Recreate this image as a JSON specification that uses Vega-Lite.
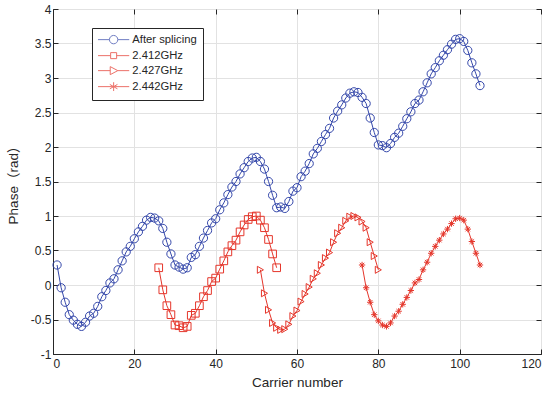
{
  "$schema": "https://vega.github.io/schema/vega-lite/v6.json",
  "width": 488,
  "height": 345,
  "autosize": "none",
  "padding": {"left": 53, "top": 9, "right": 8, "bottom": 43},
  "background": "white",
  "config": {
    "view": {"stroke": "#262626", "strokeWidth": 1},
    "axis": {
      "labelFont": "Liberation Sans",
      "titleFont": "Liberation Sans, Noto Sans CJK SC",
      "labelFontSize": 12,
      "titleFontSize": 13.5,
      "titleFontWeight": "normal",
      "labelColor": "#262626",
      "titleColor": "#262626",
      "domainColor": "#262626",
      "tickColor": "#262626",
      "gridColor": "#e2e2e2",
      "tickSize": -5
    }
  },
  "data": {"values": [
    {"series": "After splicing", "x": 1, "y": 0.29}, {"series": "After splicing", "x": 2, "y": -0.04}, {"series": "After splicing", "x": 3, "y": -0.25}, {"series": "After splicing", "x": 4, "y": -0.43}, {"series": "After splicing", "x": 5, "y": -0.51},
    {"series": "After splicing", "x": 6, "y": -0.57}, {"series": "After splicing", "x": 7, "y": -0.6}, {"series": "After splicing", "x": 8, "y": -0.54}, {"series": "After splicing", "x": 9, "y": -0.45}, {"series": "After splicing", "x": 10, "y": -0.41},
    {"series": "After splicing", "x": 11, "y": -0.31}, {"series": "After splicing", "x": 12, "y": -0.17}, {"series": "After splicing", "x": 13, "y": -0.08}, {"series": "After splicing", "x": 14, "y": 0.03}, {"series": "After splicing", "x": 15, "y": 0.09},
    {"series": "After splicing", "x": 16, "y": 0.22}, {"series": "After splicing", "x": 17, "y": 0.35}, {"series": "After splicing", "x": 18, "y": 0.48}, {"series": "After splicing", "x": 19, "y": 0.56}, {"series": "After splicing", "x": 20, "y": 0.67},
    {"series": "After splicing", "x": 21, "y": 0.77}, {"series": "After splicing", "x": 22, "y": 0.85}, {"series": "After splicing", "x": 23, "y": 0.94}, {"series": "After splicing", "x": 24, "y": 0.98}, {"series": "After splicing", "x": 25, "y": 0.97},
    {"series": "After splicing", "x": 26, "y": 0.93}, {"series": "After splicing", "x": 27, "y": 0.82}, {"series": "After splicing", "x": 28, "y": 0.62}, {"series": "After splicing", "x": 29, "y": 0.45}, {"series": "After splicing", "x": 30, "y": 0.29},
    {"series": "After splicing", "x": 31, "y": 0.26}, {"series": "After splicing", "x": 32, "y": 0.23}, {"series": "After splicing", "x": 33, "y": 0.25}, {"series": "After splicing", "x": 34, "y": 0.4}, {"series": "After splicing", "x": 35, "y": 0.44},
    {"series": "After splicing", "x": 36, "y": 0.56}, {"series": "After splicing", "x": 37, "y": 0.68}, {"series": "After splicing", "x": 38, "y": 0.79}, {"series": "After splicing", "x": 39, "y": 0.9}, {"series": "After splicing", "x": 40, "y": 0.96},
    {"series": "After splicing", "x": 41, "y": 1.09}, {"series": "After splicing", "x": 42, "y": 1.19}, {"series": "After splicing", "x": 43, "y": 1.31}, {"series": "After splicing", "x": 44, "y": 1.42}, {"series": "After splicing", "x": 45, "y": 1.5},
    {"series": "After splicing", "x": 46, "y": 1.61}, {"series": "After splicing", "x": 47, "y": 1.7}, {"series": "After splicing", "x": 48, "y": 1.79}, {"series": "After splicing", "x": 49, "y": 1.84}, {"series": "After splicing", "x": 50, "y": 1.85},
    {"series": "After splicing", "x": 51, "y": 1.79}, {"series": "After splicing", "x": 52, "y": 1.68}, {"series": "After splicing", "x": 53, "y": 1.5}, {"series": "After splicing", "x": 54, "y": 1.3}, {"series": "After splicing", "x": 55, "y": 1.12},
    {"series": "After splicing", "x": 56, "y": 1.13}, {"series": "After splicing", "x": 57, "y": 1.11}, {"series": "After splicing", "x": 58, "y": 1.21}, {"series": "After splicing", "x": 59, "y": 1.36}, {"series": "After splicing", "x": 60, "y": 1.41},
    {"series": "After splicing", "x": 61, "y": 1.57}, {"series": "After splicing", "x": 62, "y": 1.65}, {"series": "After splicing", "x": 63, "y": 1.76}, {"series": "After splicing", "x": 64, "y": 1.9}, {"series": "After splicing", "x": 65, "y": 1.98},
    {"series": "After splicing", "x": 66, "y": 2.08}, {"series": "After splicing", "x": 67, "y": 2.18}, {"series": "After splicing", "x": 68, "y": 2.27}, {"series": "After splicing", "x": 69, "y": 2.42}, {"series": "After splicing", "x": 70, "y": 2.52},
    {"series": "After splicing", "x": 71, "y": 2.61}, {"series": "After splicing", "x": 72, "y": 2.71}, {"series": "After splicing", "x": 73, "y": 2.78}, {"series": "After splicing", "x": 74, "y": 2.8}, {"series": "After splicing", "x": 75, "y": 2.79},
    {"series": "After splicing", "x": 76, "y": 2.72}, {"series": "After splicing", "x": 77, "y": 2.63}, {"series": "After splicing", "x": 78, "y": 2.42}, {"series": "After splicing", "x": 79, "y": 2.21}, {"series": "After splicing", "x": 80, "y": 2.03},
    {"series": "After splicing", "x": 81, "y": 2.02}, {"series": "After splicing", "x": 82, "y": 1.99}, {"series": "After splicing", "x": 83, "y": 2.05}, {"series": "After splicing", "x": 84, "y": 2.14}, {"series": "After splicing", "x": 85, "y": 2.2},
    {"series": "After splicing", "x": 86, "y": 2.3}, {"series": "After splicing", "x": 87, "y": 2.41}, {"series": "After splicing", "x": 88, "y": 2.51}, {"series": "After splicing", "x": 89, "y": 2.63}, {"series": "After splicing", "x": 90, "y": 2.68},
    {"series": "After splicing", "x": 91, "y": 2.8}, {"series": "After splicing", "x": 92, "y": 2.93}, {"series": "After splicing", "x": 93, "y": 3.06}, {"series": "After splicing", "x": 94, "y": 3.15}, {"series": "After splicing", "x": 95, "y": 3.25},
    {"series": "After splicing", "x": 96, "y": 3.33}, {"series": "After splicing", "x": 97, "y": 3.41}, {"series": "After splicing", "x": 98, "y": 3.49}, {"series": "After splicing", "x": 99, "y": 3.56}, {"series": "After splicing", "x": 100, "y": 3.57},
    {"series": "After splicing", "x": 101, "y": 3.53}, {"series": "After splicing", "x": 102, "y": 3.4}, {"series": "After splicing", "x": 103, "y": 3.22}, {"series": "After splicing", "x": 104, "y": 3.06}, {"series": "After splicing", "x": 105, "y": 2.89},
    {"series": "2.412GHz", "x": 26, "y": 0.25}, {"series": "2.412GHz", "x": 27, "y": -0.07}, {"series": "2.412GHz", "x": 28, "y": -0.3}, {"series": "2.412GHz", "x": 29, "y": -0.43}, {"series": "2.412GHz", "x": 30, "y": -0.58},
    {"series": "2.412GHz", "x": 31, "y": -0.59}, {"series": "2.412GHz", "x": 32, "y": -0.62}, {"series": "2.412GHz", "x": 33, "y": -0.6}, {"series": "2.412GHz", "x": 34, "y": -0.44}, {"series": "2.412GHz", "x": 35, "y": -0.41},
    {"series": "2.412GHz", "x": 36, "y": -0.3}, {"series": "2.412GHz", "x": 37, "y": -0.17}, {"series": "2.412GHz", "x": 38, "y": -0.08}, {"series": "2.412GHz", "x": 39, "y": 0.05}, {"series": "2.412GHz", "x": 40, "y": 0.1},
    {"series": "2.412GHz", "x": 41, "y": 0.23}, {"series": "2.412GHz", "x": 42, "y": 0.35}, {"series": "2.412GHz", "x": 43, "y": 0.48}, {"series": "2.412GHz", "x": 44, "y": 0.57}, {"series": "2.412GHz", "x": 45, "y": 0.65},
    {"series": "2.412GHz", "x": 46, "y": 0.77}, {"series": "2.412GHz", "x": 47, "y": 0.87}, {"series": "2.412GHz", "x": 48, "y": 0.95}, {"series": "2.412GHz", "x": 49, "y": 0.99}, {"series": "2.412GHz", "x": 50, "y": 1.0},
    {"series": "2.412GHz", "x": 51, "y": 0.94}, {"series": "2.412GHz", "x": 52, "y": 0.83}, {"series": "2.412GHz", "x": 53, "y": 0.66}, {"series": "2.412GHz", "x": 54, "y": 0.45}, {"series": "2.412GHz", "x": 55, "y": 0.25},
    {"series": "2.427GHz", "x": 51, "y": 0.22}, {"series": "2.427GHz", "x": 52, "y": -0.12}, {"series": "2.427GHz", "x": 53, "y": -0.36}, {"series": "2.427GHz", "x": 54, "y": -0.55}, {"series": "2.427GHz", "x": 55, "y": -0.62},
    {"series": "2.427GHz", "x": 56, "y": -0.65}, {"series": "2.427GHz", "x": 57, "y": -0.64}, {"series": "2.427GHz", "x": 58, "y": -0.57}, {"series": "2.427GHz", "x": 59, "y": -0.45}, {"series": "2.427GHz", "x": 60, "y": -0.37},
    {"series": "2.427GHz", "x": 61, "y": -0.24}, {"series": "2.427GHz", "x": 62, "y": -0.13}, {"series": "2.427GHz", "x": 63, "y": -0.03}, {"series": "2.427GHz", "x": 64, "y": 0.09}, {"series": "2.427GHz", "x": 65, "y": 0.17},
    {"series": "2.427GHz", "x": 66, "y": 0.29}, {"series": "2.427GHz", "x": 67, "y": 0.39}, {"series": "2.427GHz", "x": 68, "y": 0.47}, {"series": "2.427GHz", "x": 69, "y": 0.62}, {"series": "2.427GHz", "x": 70, "y": 0.75},
    {"series": "2.427GHz", "x": 71, "y": 0.83}, {"series": "2.427GHz", "x": 72, "y": 0.93}, {"series": "2.427GHz", "x": 73, "y": 0.99}, {"series": "2.427GHz", "x": 74, "y": 1.0}, {"series": "2.427GHz", "x": 75, "y": 0.98},
    {"series": "2.427GHz", "x": 76, "y": 0.92}, {"series": "2.427GHz", "x": 77, "y": 0.83}, {"series": "2.427GHz", "x": 78, "y": 0.62}, {"series": "2.427GHz", "x": 79, "y": 0.42}, {"series": "2.427GHz", "x": 80, "y": 0.22},
    {"series": "2.442GHz", "x": 76, "y": 0.29}, {"series": "2.442GHz", "x": 77, "y": -0.04}, {"series": "2.442GHz", "x": 78, "y": -0.25}, {"series": "2.442GHz", "x": 79, "y": -0.43}, {"series": "2.442GHz", "x": 80, "y": -0.52},
    {"series": "2.442GHz", "x": 81, "y": -0.58}, {"series": "2.442GHz", "x": 82, "y": -0.6}, {"series": "2.442GHz", "x": 83, "y": -0.55}, {"series": "2.442GHz", "x": 84, "y": -0.45}, {"series": "2.442GHz", "x": 85, "y": -0.38},
    {"series": "2.442GHz", "x": 86, "y": -0.28}, {"series": "2.442GHz", "x": 87, "y": -0.18}, {"series": "2.442GHz", "x": 88, "y": -0.08}, {"series": "2.442GHz", "x": 89, "y": 0.03}, {"series": "2.442GHz", "x": 90, "y": 0.08},
    {"series": "2.442GHz", "x": 91, "y": 0.22}, {"series": "2.442GHz", "x": 92, "y": 0.33}, {"series": "2.442GHz", "x": 93, "y": 0.46}, {"series": "2.442GHz", "x": 94, "y": 0.56}, {"series": "2.442GHz", "x": 95, "y": 0.65},
    {"series": "2.442GHz", "x": 96, "y": 0.74}, {"series": "2.442GHz", "x": 97, "y": 0.81}, {"series": "2.442GHz", "x": 98, "y": 0.89}, {"series": "2.442GHz", "x": 99, "y": 0.96}, {"series": "2.442GHz", "x": 100, "y": 0.97},
    {"series": "2.442GHz", "x": 101, "y": 0.94}, {"series": "2.442GHz", "x": 102, "y": 0.81}, {"series": "2.442GHz", "x": 103, "y": 0.63}, {"series": "2.442GHz", "x": 104, "y": 0.46}, {"series": "2.442GHz", "x": 105, "y": 0.29}
  ]},
  "layer": [
    {
      "mark": {"type": "line", "strokeWidth": 1},
      "encoding": {
        "x": {"field": "x", "type": "quantitative", "scale": {"domain": [0, 120], "nice": false},
              "axis": {"values": [0, 20, 40, 60, 80, 100, 120], "title": "Carrier number", "titlePadding": 6, "labelPadding": 9}},
        "y": {"field": "y", "type": "quantitative", "scale": {"domain": [-1, 4], "nice": false, "zero": false},
              "axis": {"values": [-1, -0.5, 0, 0.5, 1, 1.5, 2, 2.5, 3, 3.5, 4], "labelExpr": "datum.value + ''", "title": "Phase（rad）", "titlePadding": 10, "labelPadding": 7}},
        "color": {"field": "series", "type": "nominal",
          "scale": {"domain": ["After splicing", "2.412GHz", "2.427GHz", "2.442GHz"], "range": ["#3447aa", "#e5362b", "#e5362b", "#e5362b"]},
          "legend": null}
      }
    },
    {
      "mark": {"type": "point", "filled": false, "strokeWidth": 1, "opacity": 1},
      "encoding": {
        "x": {"field": "x", "type": "quantitative",
              "axis": {"orient": "top", "values": [0, 20, 40, 60, 80, 100, 120], "labels": false, "title": null, "grid": false, "domain": false}},
        "y": {"field": "y", "type": "quantitative",
              "axis": {"orient": "right", "values": [-1, -0.5, 0, 0.5, 1, 1.5, 2, 2.5, 3, 3.5, 4], "labels": false, "title": null, "grid": false, "domain": false}},
        "color": {"field": "series", "type": "nominal", "legend": null},
        "shape": {"field": "series", "type": "nominal", "legend": null,
          "scale": {"domain": ["After splicing", "2.412GHz", "2.427GHz", "2.442GHz"],
                    "range": ["circle", "square", "triangle-right", "M0,-1V1M-1,0H1M-0.7,-0.7L0.7,0.7M-0.7,0.7L0.7,-0.7"]}},
        "size": {"field": "series", "type": "nominal", "legend": null,
          "scale": {"domain": ["After splicing", "2.412GHz", "2.427GHz", "2.442GHz"], "range": [68, 40, 64, 81]}}
      }
    },
    {
      "transform": [{"filter": "datum.x < 0"}],
      "mark": {"type": "point", "filled": false, "strokeWidth": 1},
      "encoding": {
        "x": {"field": "x", "type": "quantitative", "axis": null},
        "y": {"field": "y", "type": "quantitative", "axis": null},
        "color": {"field": "series", "type": "nominal",
          "legend": {
            "title": null, "orient": "none", "legendX": 39, "legendY": 19, "direction": "vertical",
            "padding": 6, "strokeColor": "#262626", "fillColor": "white",
            "symbolSize": 64, "symbolStrokeWidth": 1, "symbolOffset": 10, "labelOffset": 13, "rowPadding": 3,
            "labelFont": "Liberation Sans", "labelFontSize": 11.25, "labelColor": "#262626"
          }},
        "shape": {"field": "series", "type": "nominal",
          "scale": {"domain": ["After splicing", "2.412GHz", "2.427GHz", "2.442GHz"],
                    "range": [
                      "M-3.9,0H-1.05M1.05,0H3.9M1.05,0A1.05,1.05,0,1,1,-1.05,0A1.05,1.05,0,1,1,1.05,0",
                      "M-3.9,0H-0.75M0.75,0H3.9M-0.75,-0.75H0.75V0.75H-0.75Z",
                      "M-3.9,0H-0.85M1.05,0H3.9M-0.85,-1L1.05,0L-0.85,1Z",
                      "M-3.9,0H3.9M0,-1.1V1.1M-0.95,-0.55L0.95,0.55M-0.95,0.55L0.95,-0.55"
                    ]},
          "legend": {
            "title": null, "orient": "none", "legendX": 39, "legendY": 19, "direction": "vertical",
            "padding": 6, "strokeColor": "#262626", "fillColor": "white",
            "symbolSize": 64, "symbolStrokeWidth": 1, "symbolOffset": 10, "labelOffset": 13, "rowPadding": 3,
            "labelFont": "Liberation Sans", "labelFontSize": 11.25, "labelColor": "#262626"
          }}
      }
    }
  ],
  "resolve": {
    "axis": {"x": "independent", "y": "independent"},
    "scale": {"shape": "independent"},
    "legend": {"color": "independent", "shape": "independent"}
  }
}
